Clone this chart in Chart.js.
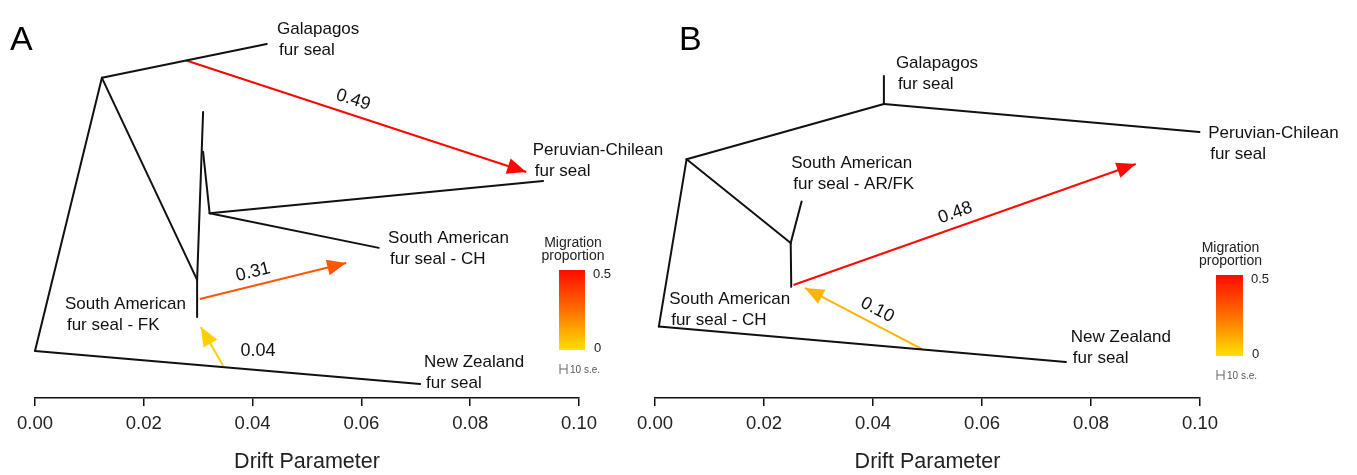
<!DOCTYPE html>
<html>
<head>
<meta charset="utf-8">
<script src="https://cdn.jsdelivr.net/npm/chart.js"></script>
<style>
  html, body { margin: 0; padding: 0; background: #fff; }
  #wrap { position: relative; width: 1357px; height: 475px; }
  canvas { position: absolute; left: 0; top: 0; }
</style>
</head>
<body>
<div id="wrap">
  <canvas id="chartA" width="1357" height="475"></canvas>
  <canvas id="chartB" width="1357" height="475"></canvas>
</div>
<script>
const tickLabels = ['0.00', '0.02', '0.04', '0.06', '0.08', '0.10'];

// Panel A: tree branches [x0, y0, x1, y1] (x = drift, y = relative height)
const branchesA = [
  [0.0000, 0.128, 0.0123, 0.870],
  [0.0123, 0.870, 0.0426, 0.962],
  [0.0123, 0.870, 0.0298, 0.321],
  [0.0298, 0.321, 0.0298, 0.220],
  [0.0298, 0.321, 0.0309, 0.777],
  [0.0309, 0.669, 0.0321, 0.502],
  [0.0321, 0.502, 0.0934, 0.590],
  [0.0321, 0.502, 0.0632, 0.408],
  [0.0000, 0.128, 0.0708, 0.038]
];
const migFromA = [[0.0278, 0.917], [0.0303, 0.269], [0.0346, 0.087]];
const migToA = [[0.0903, 0.614], [0.0572, 0.367], [0.0305, 0.193]];
const migWeightA = [0.49, 0.31, 0.04];
const tipNamesA = [
  ['Galapagos', 'fur seal'],
  ['Peruvian-Chilean', 'fur seal'],
  ['South American', 'fur seal - CH'],
  ['South American', 'fur seal - FK'],
  ['New Zealand', 'fur seal']
];

// Panel B
const branchesB = [
  [0.0007, 0.194, 0.0058, 0.649],
  [0.0058, 0.649, 0.0420, 0.799],
  [0.0420, 0.799, 0.0420, 0.875],
  [0.0420, 0.799, 0.0999, 0.723],
  [0.0058, 0.649, 0.0249, 0.421],
  [0.0249, 0.421, 0.0269, 0.534],
  [0.0249, 0.421, 0.0250, 0.302],
  [0.0007, 0.194, 0.0754, 0.098]
];
const migFromB = [[0.0254, 0.307], [0.0490, 0.133]];
const migToB = [[0.0882, 0.636], [0.0275, 0.299]];
const migWeightB = [0.48, 0.10];
const tipNamesB = [
  ['Galapagos', 'fur seal'],
  ['Peruvian-Chilean', 'fur seal'],
  ['South American', 'fur seal - AR/FK'],
  ['South American', 'fur seal - CH'],
  ['New Zealand', 'fur seal']
];

// label placement (layout only)
const tipAtA = [[0.0445, 1.003], [0.0915, 0.674], [0.0649, 0.435], [0.0055, 0.255], [0.0715, 0.098]];
const weightAtA = [[0.0585, 0.810], [0.0401, 0.342], [0.0410, 0.128]];
const tipAtB = [[0.0442, 0.910], [0.1015, 0.720], [0.0250, 0.639], [0.0026, 0.269], [0.0763, 0.166]];
const weightAtB = [[0.0551, 0.503], [0.0408, 0.239]];

const FONT = "'Liberation Sans', Arial, sans-serif";

function migColor(w) {
  const g = Math.round(225 * (1 - Math.min(w, 0.5) / 0.5));
  return 'rgb(255,' + g + ',0)';
}

function makeDecor(panel) {
  return {
    id: 'treeDecor' + panel.letter,
    afterDatasetsDraw(chart) {
      const ctx = chart.ctx;
      const xs = chart.scales.x, ys = chart.scales.y;
      const px = v => xs.getPixelForValue(v);
      const py = v => ys.getPixelForValue(v);
      ctx.save();

      // arrow heads + weight labels
      panel.migW.forEach((w, i) => {
        const x0 = px(panel.migFrom[i][0]), y0 = py(panel.migFrom[i][1]);
        const x1 = px(panel.migTo[i][0]), y1 = py(panel.migTo[i][1]);
        const len = Math.hypot(x1 - x0, y1 - y0);
        const ux = (x1 - x0) / len, uy = (y1 - y0) / len;
        const L = 19, W = 8;
        ctx.fillStyle = migColor(w);
        ctx.beginPath();
        ctx.moveTo(x1, y1);
        ctx.lineTo(x1 - L * ux - W * uy, y1 - L * uy + W * ux);
        ctx.lineTo(x1 - L * ux + W * uy, y1 - L * uy - W * ux);
        ctx.closePath();
        ctx.fill();

        let ang = Math.atan2(y1 - y0, x1 - x0);
        if (ang > Math.PI / 2) ang -= Math.PI;
        if (ang < -Math.PI / 2) ang += Math.PI;
        if (Math.abs(ang) > Math.PI / 4) ang = 0;
        ctx.save();
        ctx.translate(px(panel.weightAt[i][0]), py(panel.weightAt[i][1]));
        ctx.rotate(ang);
        ctx.fillStyle = '#111';
        ctx.font = '18px ' + FONT;
        ctx.textAlign = 'center';
        ctx.textBaseline = 'middle';
        ctx.fillText(w.toFixed(2), 0, 0);
        ctx.restore();
      });

      // tip labels
      ctx.fillStyle = '#111';
      ctx.font = '17px ' + FONT;
      ctx.textAlign = 'left';
      ctx.textBaseline = 'middle';
      panel.tipNames.forEach((lines, i) => {
        const x = px(panel.tipAt[i][0]), y = py(panel.tipAt[i][1]);
        lines.forEach((t, k) => ctx.fillText(t, x + (k ? 2 : 0), y + k * 21));
      });

      // panel letter
      ctx.font = '34px ' + FONT;
      ctx.fillStyle = '#000';
      ctx.fillText(panel.letter, panel.letterPos[0], panel.letterPos[1]);

      // migration colour legend
      const b = panel.legend;
      const grad = ctx.createLinearGradient(0, b.y, 0, b.y + b.h);
      grad.addColorStop(0, 'rgb(255,10,0)');
      grad.addColorStop(0.5, 'rgb(255,110,0)');
      grad.addColorStop(1, 'rgb(255,225,0)');
      ctx.fillStyle = grad;
      ctx.fillRect(b.x, b.y, b.w, b.h);
      ctx.fillStyle = '#222';
      ctx.font = '14px ' + FONT;
      ctx.textAlign = 'center';
      ctx.fillText('Migration', b.x + b.w / 2 + 1, b.y - 27);
      ctx.fillText('proportion', b.x + b.w / 2 + 1, b.y - 14);
      ctx.font = '13px ' + FONT;
      ctx.textAlign = 'left';
      ctx.fillText('0.5', b.x + b.w + 8, b.y + 4);
      ctx.fillText('0', b.x + b.w + 9, b.y + b.h - 2);
      // 10 s.e. scale mark
      const sy = b.y + b.h + 19;
      ctx.strokeStyle = '#666';
      ctx.lineWidth = 1;
      ctx.beginPath();
      ctx.moveTo(b.x + 1, sy - 5); ctx.lineTo(b.x + 1, sy + 5);
      ctx.moveTo(b.x + 1, sy); ctx.lineTo(b.x + 8, sy);
      ctx.moveTo(b.x + 8, sy - 5); ctx.lineTo(b.x + 8, sy + 5);
      ctx.stroke();
      ctx.fillStyle = '#555';
      ctx.font = '10px ' + FONT;
      ctx.fillText('10 s.e.', b.x + 11, sy + 1);
      ctx.restore();
    }
  };
}

function makeChart(id, panel) {
  const datasets = [];
  panel.branches.forEach(br => {
    datasets.push({
      data: [{ x: br[0], y: br[1] }, { x: br[2], y: br[3] }],
      showLine: true, borderColor: '#111', borderWidth: 2,
      pointRadius: 0, clip: false, borderCapStyle: 'round'
    });
  });
  panel.migW.forEach((w, i) => {
    datasets.push({
      data: [{ x: panel.migFrom[i][0], y: panel.migFrom[i][1] },
             { x: panel.migTo[i][0], y: panel.migTo[i][1] }],
      showLine: true, borderColor: migColor(w), borderWidth: 2,
      pointRadius: 0, clip: false
    });
  });

  return new Chart(document.getElementById(id), {
    type: 'scatter',
    data: { datasets },
    options: {
      responsive: false,
      animation: false,
      events: [],
      layout: { padding: { left: panel.padLeft, right: panel.padRight, top: 30, bottom: 0 } },
      plugins: { legend: { display: false }, tooltip: { enabled: false } },
      scales: {
        x: {
          type: 'linear', min: 0, max: 0.1,
          afterFit(scale) { scale.height = 77; },
          border: { display: true, color: '#111', width: 1.5 },
          grid: { drawOnChartArea: false, drawTicks: true, tickLength: 8, color: '#111', lineWidth: 1.5 },
          ticks: {
            stepSize: 0.02, padding: 7, color: '#222',
            font: { family: FONT, size: 18.5 },
            maxRotation: 0,
            callback: (v, i) => tickLabels[i]
          },
          title: {
            display: true, text: 'Drift Parameter', color: '#222',
            font: { family: FONT, size: 21.5 },
            padding: { top: 0, bottom: 0 }
          }
        },
        y: { display: false, min: 0, max: 1 }
      }
    },
    plugins: [makeDecor(panel)]
  });
}

makeChart('chartA', {
  letter: 'A', letterPos: [10, 41], padLeft: 35, padRight: 1357 - 579,
  branches: branchesA, migFrom: migFromA, migTo: migToA, migW: migWeightA,
  tipNames: tipNamesA, tipAt: tipAtA, weightAt: weightAtA,
  legend: { x: 559, y: 270, w: 26, h: 80 }
});
makeChart('chartB', {
  letter: 'B', letterPos: [679, 41], padLeft: 655, padRight: 1357 - 1200,
  branches: branchesB, migFrom: migFromB, migTo: migToB, migW: migWeightB,
  tipNames: tipNamesB, tipAt: tipAtB, weightAt: weightAtB,
  legend: { x: 1216, y: 275, w: 27, h: 81 }
});
</script>
</body>
</html>
